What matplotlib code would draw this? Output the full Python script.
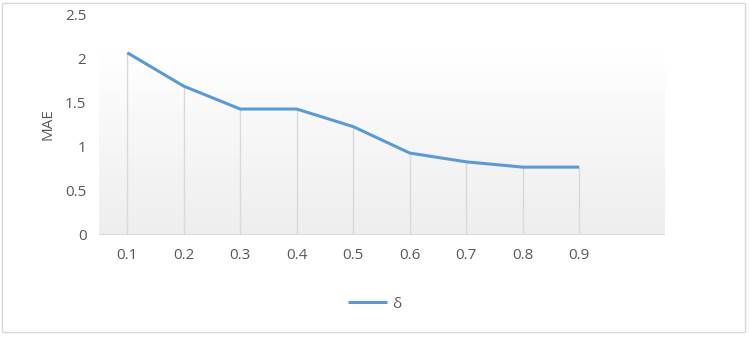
import numpy as np
import matplotlib.pyplot as plt
from matplotlib.colors import LinearSegmentedColormap
from matplotlib.patches import Rectangle

plt.rcParams['font.family'] = ['Open Sans', 'DejaVu Sans']

# data
categories = ['0.1', '0.2', '0.3', '0.4', '0.5', '0.6', '0.7', '0.8', '0.9', '']
mae = [2.06, 1.68, 1.42, 1.42, 1.22, 0.92, 0.82, 0.76, 0.76]
yticks = [0, 0.5, 1, 1.5, 2, 2.5]

fig = plt.figure(figsize=(7.49, 3.40), dpi=100)
ax = fig.add_axes([99 / 749, 1 - 234 / 340, 565 / 749, 220 / 340])

# light vertical gradient in the plot area
grad = np.linspace(0, 1, 256).reshape(-1, 1)
cmap = LinearSegmentedColormap.from_list('g', [(0, '#eeeeee'), (0.55, '#f8f8f8'), (0.9, '#ffffff'), (1, '#ffffff')])
ax.imshow(grad, cmap=cmap, aspect='auto', origin='lower',
          extent=[-0.5, len(categories) - 0.5, 0, 2.3], zorder=0)

x = np.arange(len(mae))
ax.vlines(x, 0, mae, color='#d9d9d9', lw=1, zorder=1)
ax.plot(x, mae, color='#5b9bd5', lw=2.2, label='δ', zorder=3, solid_capstyle='butt')

ax.set_xlim(-0.5, len(categories) - 0.5)
ax.set_ylim(0, 2.5)
ax.set_xticks(np.arange(len(categories)))
ax.set_xticklabels(categories)
ax.set_yticks(yticks)
ax.set_yticklabels(['0', '0.5', '1', '1.5', '2', '2.5'])
ax.tick_params(length=0, labelsize=11, colors='#595959')
ax.tick_params(axis='x', pad=10)
ax.tick_params(axis='y', pad=9)
for s in ['top', 'right', 'left']:
    ax.spines[s].set_visible(False)
ax.spines['bottom'].set_color('#d9d9d9')
ax.set_ylabel('MAE', color='#595959', fontsize=11, labelpad=7)

fig.legend(loc='center', bbox_to_anchor=(0.5, 1 - 304 / 340), frameon=False,
           fontsize=11, labelcolor='#595959', handlelength=2.6, handletextpad=0.3)

fig.patches.append(Rectangle((2 / 749, 1 - 332 / 340), 743 / 749, 329 / 340,
                             transform=fig.transFigure, fill=False,
                             edgecolor='#d9d9d9', lw=1))

fig.savefig('out.png', dpi=100)
